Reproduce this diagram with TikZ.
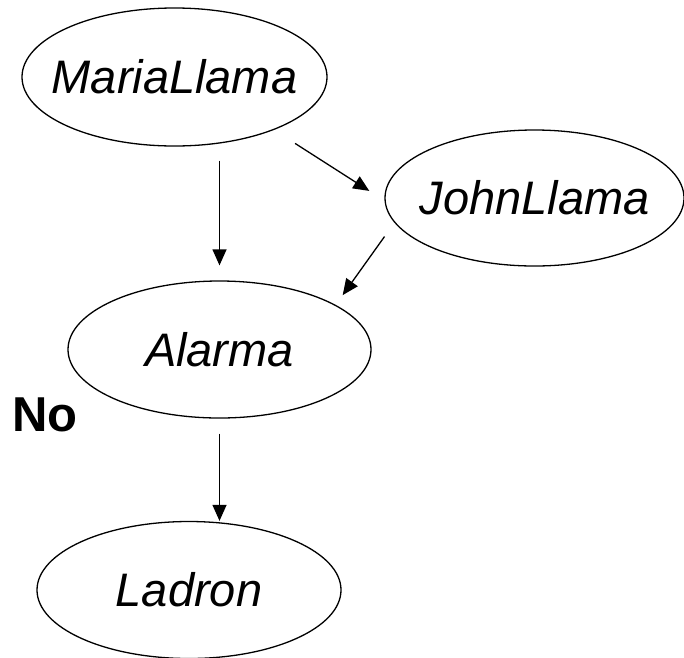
\documentclass[tikz,border=0pt]{standalone}
\usepackage{fontspec}
\setmainfont{Liberation Sans}
\usetikzlibrary{arrows.meta, shapes.geometric}
\tikzset{
    var/.style={draw, ellipse, line width=1.3pt, minimum width=304pt, minimum height=137pt,
        inner xsep=-25pt, inner ysep=-15pt, font=\fontsize{47}{52}\selectfont\itshape},
    dep/.style={-{Triangle[length=16pt, width=14pt]}, line width=1.3pt}
}
\begin{document}
\begin{tikzpicture}[x=1pt, y=-1pt]
    \useasboundingbox (0,0) rectangle (684,657);
    \node[var, minimum width=305pt, minimum height=138pt] (maria) at (174.5, 77) {MariaLlama};
    \node[var, minimum width=299pt, minimum height=136pt] (john) at (534.5, 198) {JohnLlama};
    \node[var, minimum width=303pt] (alarma) at (219.5, 349.5) {Alarma};
    \node[var] (ladron) at (189, 590) {Ladron};
    \node[font=\fontsize{49}{54}\selectfont\bfseries] (no) at (45, 414.5) {No};
    % arcos
    \draw[dep, shorten <=14pt, shorten >=15pt] (maria.south -| alarma.north) -- (alarma.north);
    \draw[dep, shorten <=25pt, shorten >=18pt] (maria.-28) -- (john.181);
    \draw[dep, shorten <=17pt, shorten >=12pt] (john.190) -- (alarma.21);
    \draw[dep, shorten <=15pt] (alarma.south) -- (alarma.south |- ladron.north);
\end{tikzpicture}
\end{document}
